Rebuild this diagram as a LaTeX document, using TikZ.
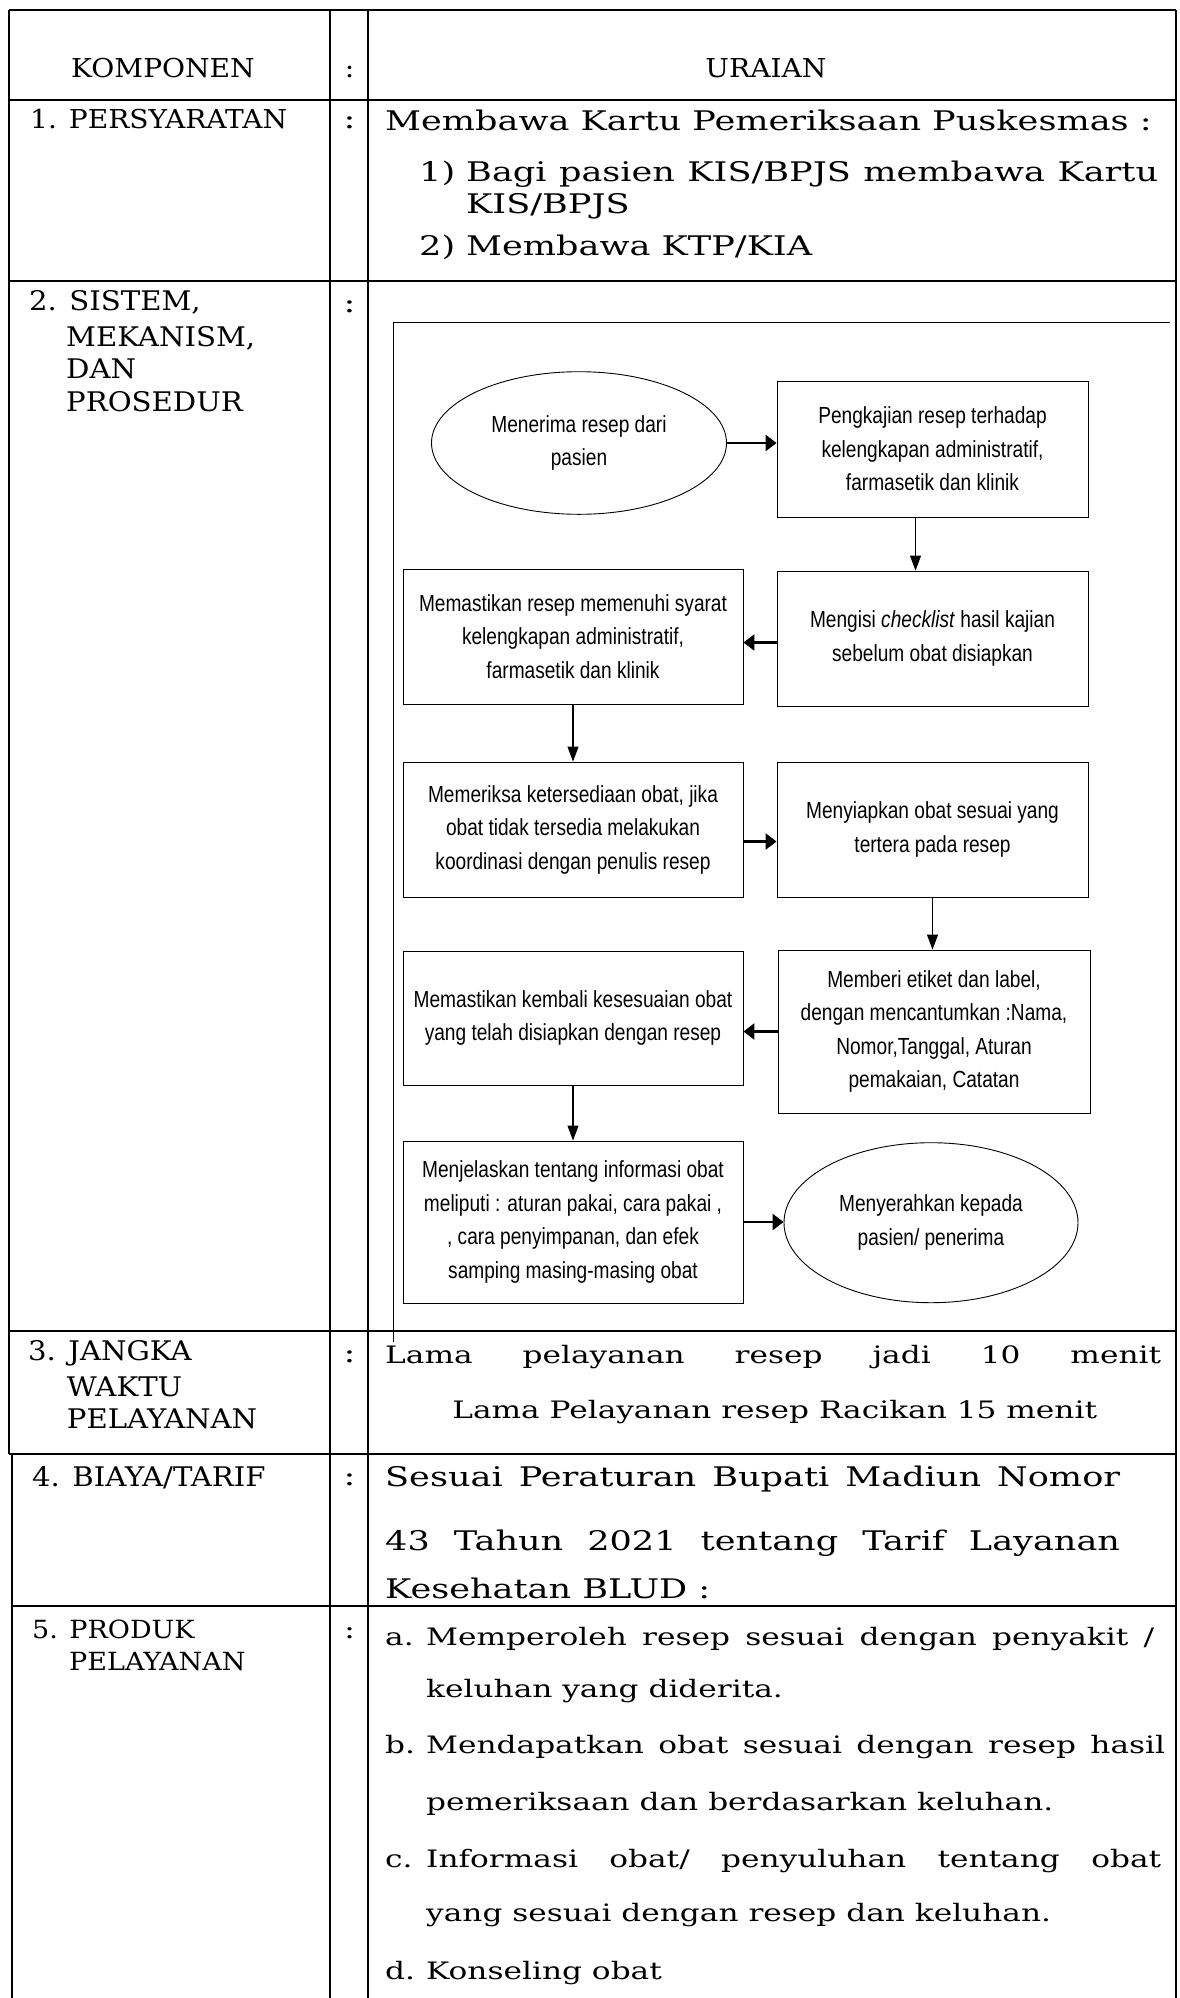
\documentclass[tikz,border=0pt]{standalone}
\usepackage{fontspec}
\usetikzlibrary{shapes.geometric,arrows.meta}
\newfontfamily\bodyfont[FakeStretch=1.30]{DejaVu Serif}
\newfontfamily\labfont[FakeStretch=1.08]{DejaVu Serif}
\newfontfamily\flowfont[FakeStretch=0.82]{Liberation Sans}
\begin{document}
\begin{tikzpicture}[x=1pt,y=-1pt,
  tline/.style={line width=1.8pt},
  fbox/.style={draw, line width=0.9pt, inner sep=0pt, align=center, font=\flowfont\fontsize{23.3}{33.5}\selectfont},
  fell/.style={fbox, ellipse},
  harr/.style={line width=2.6pt, -{Triangle[length=11pt,width=16pt]}},
  varr/.style={line width=1.1pt, -{Triangle[length=15pt,width=11pt]}},
  lab/.style={anchor=base west, inner sep=0pt, font=\labfont\fontsize{#1}{30}\selectfont},
  labc/.style={anchor=base, inner sep=0pt, font=\labfont\fontsize{#1}{30}\selectfont},
  body/.style={anchor=base west, inner sep=0pt, font=\bodyfont\fontsize{#1}{30}\selectfont},
  bodyc/.style={anchor=base, inner sep=0pt, font=\bodyfont\fontsize{#1}{30}\selectfont},
]
\useasboundingbox (0,0) rectangle (1180,1998);
\fill[white] (0,0) rectangle (1180,1998);
% table grid
\draw[tline] (9,10) -- (1176,10);
\draw[tline] (9,100) -- (1176,100);
\draw[tline] (9,281) -- (1176,281);
\draw[tline] (9,1331) -- (1176,1331);
\draw[tline] (9,1454) -- (1176,1454);
\draw[tline] (11.7,1606) -- (1176,1606);
\draw[tline] (9,10) -- (9,1454);
\draw[tline] (11.7,1454) -- (11.7,1998);
\draw[tline] (330,10) -- (330,1998);
\draw[tline] (368.3,10) -- (368.3,1998);
\draw[tline] (1176,10) -- (1176,1998);
% header
\node[labc=26] (hk) at (163,77) {KOMPONEN};
\node[labc=26] (hc) at (349.5,77) {:};
\node[labc=26] (hu) at (766,77) {URAIAN};
% row 1
\node[lab=26] (l1) at (30,128) {1. PERSYARATAN};
\node[bodyc=27] (c1) at (349.5,128) {:};
\node[body=27] (r1a) at (385,130.5) {Membawa Kartu Pemeriksaan Puskesmas :};
\node[body=27] (r1b) at (419,181.5) {1)};
\node[body=27] (r1c) at (466,181.5) {\makebox[692pt][s]{Bagi pasien KIS/BPJS membawa Kartu}};
\node[body=27] (r1d) at (466,213) {KIS/BPJS};
\node[body=27] (r1e) at (419,255) {2)};
\node[body=27] (r1f) at (466,255) {Membawa KTP/KIA};
% row 2
\node[lab=27] (l2a) at (29,310) {2. SISTEM,};
\node[lab=27] (l2b) at (66,346) {MEKANISM,};
\node[lab=27] (l2c) at (66,378.5) {DAN};
\node[lab=27] (l2d) at (66,411.5) {PROSEDUR};
\node[bodyc=27] (c2) at (349.5,312) {:};
% flowchart frame
\draw[line width=1.5pt] (393.3,322.7) -- (1170,322.7);
\draw[line width=0.8pt] (393.3,322.7) -- (393.3,1342);
% flowchart nodes
\node[fell, minimum width=295pt, minimum height=142.6pt] (e1) at (579,443) {Menerima resep dari\\pasien};
\node[fbox, minimum width=311pt, minimum height=136pt] (b2) at (932.5,449) {Pengkajian resep terhadap\\kelengkapan administratif,\\farmasetik dan klinik};
\node[fbox, minimum width=340pt, minimum height=135pt] (b3) at (573,636.5) {Memastikan resep memenuhi syarat\\kelengkapan administratif,\\farmasetik dan klinik};
\node[fbox, minimum width=311pt, minimum height=135pt] (b4) at (932.5,638.5) {Mengisi \textit{checklist} hasil kajian\\sebelum obat disiapkan};
\node[fbox, minimum width=340pt, minimum height=135pt] (b5) at (573,829.5) {Memeriksa ketersediaan obat, jika\\obat tidak tersedia melakukan\\koordinasi dengan penulis resep};
\node[fbox, minimum width=311pt, minimum height=135pt] (b6) at (932.5,829.5) {Menyiapkan obat sesuai yang\\tertera pada resep};
\node[fbox, minimum width=312pt, minimum height=163pt] (b7) at (934,1031.5) {Memberi etiket dan label,\\dengan mencantumkan :Nama,\\Nomor,Tanggal, Aturan\\pemakaian, Catatan};
\node[fbox, minimum width=340pt, minimum height=134pt] (b8) at (573,1018) {Memastikan kembali kesesuaian obat\\yang telah disiapkan dengan resep};
\node[fbox, minimum width=340pt, minimum height=162pt] (b9) at (573,1222) {Menjelaskan tentang informasi obat\\meliputi : aturan pakai, cara pakai ,\\, cara penyimpanan, dan efek\\samping masing-masing obat};
\node[fell, minimum width=294pt, minimum height=160pt] (e2) at (931,1222.7) {Menyerahkan kepada\\pasien/ penerima};
% connectors
\draw[harr] (e1.east) -- (e1.east -| b2.west);
\draw[varr] ([xshift=-17pt]b2.south) -- ([xshift=-17pt]b2.south |- b4.north);
\draw[harr] ([yshift=-4pt]b4.west) -- ([yshift=-4pt]b4.west -| b3.east);
\draw[varr] (b3.south) -- (b5.north);
\draw[harr] ([yshift=-12pt]b5.east) -- ([yshift=-12pt]b5.east -| b6.west);
\draw[varr] (b6.south) -- (b6.south |- b7.north);
\draw[harr] (b7.west) -- (b7.west -| b8.east);
\draw[varr] (b8.south) -- (b8.south |- b9.north);
\draw[harr] (b9.east) -- (b9.east -| e2.west);
% row 3
\node[lab=27] (l3a) at (28,1360.5) {3. JANGKA};
\node[lab=27] (l3b) at (66.7,1396.5) {WAKTU};
\node[lab=27] (l3c) at (66.7,1428.3) {PELAYANAN};
\node[bodyc=27] (c3) at (349.5,1362) {:};
\node[body=24] (r3a) at (385,1363) {\makebox[776pt][s]{Lama pelayanan resep jadi 10 menit}};
\node[bodyc=24] (r3b) at (774.7,1418) {Lama Pelayanan resep Racikan 15 menit};
% row 4
\node[lab=27] (l4) at (32,1486) {4. BIAYA/TARIF};
\node[bodyc=27] (c4) at (349.5,1485) {:};
\node[body=27] (r4a) at (385,1486) {\makebox[735pt][s]{Sesuai Peraturan Bupati Madiun Nomor}};
\node[body=27] (r4b) at (385,1550) {\makebox[735pt][s]{43 Tahun 2021 tentang Tarif Layanan}};
\node[body=27] (r4c) at (385,1598) {Kesehatan BLUD :};
% row 5
\node[lab=25] (l5a) at (32,1638) {5. PRODUK};
\node[lab=25] (l5b) at (69,1670) {PELAYANAN};
\node[bodyc=25] (c5) at (349.5,1638) {:};
\node[body=24] (r5a1) at (385,1645) {a.};
\node[body=24] (r5a2) at (426,1645) {\makebox[728pt][s]{Memperoleh resep sesuai dengan penyakit /}};
\node[body=24] (r5a3) at (426,1697) {keluhan yang diderita.};
\node[body=24] (r5b1) at (385,1753) {b.};
\node[body=24] (r5b2) at (426,1753) {\makebox[739pt][s]{Mendapatkan obat sesuai dengan resep hasil}};
\node[body=24] (r5b3) at (426,1810) {pemeriksaan dan berdasarkan keluhan.};
\node[body=24] (r5c1) at (385,1867) {c.};
\node[body=24] (r5c2) at (426,1867) {\makebox[735pt][s]{Informasi obat/ penyuluhan tentang obat}};
\node[body=24] (r5c3) at (426,1921) {yang sesuai dengan resep dan keluhan.};
\node[body=24] (r5d1) at (385,1979) {d.};
\node[body=24] (r5d2) at (426,1979) {Konseling obat};
\end{tikzpicture}
\end{document}
